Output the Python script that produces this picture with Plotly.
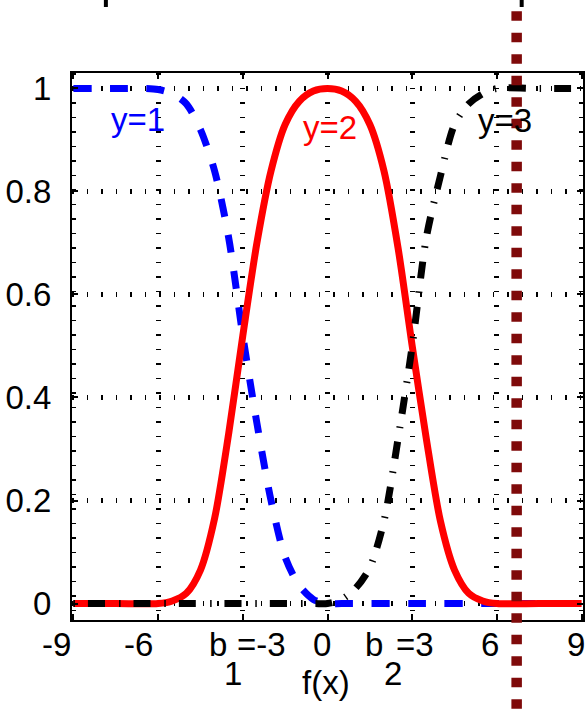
import plotly.graph_objects as go

# ---------------- data ----------------
x_blue = [-9, -7.5, -6.5, -6, -5.5, -5, -4.5, -4, -3.5, -3, -2.5, -2, -1.5, -1, -0.5, 0, 0.5, 3, 6, 9]
p_blue = [1, 1, 1, 0.998, 0.99, 0.97, 0.92, 0.84, 0.71, 0.52, 0.35, 0.2, 0.09, 0.035, 0.008, 0, 0, 0, 0, 0]

x_red = [-9, -7.5, -6, -5.5, -5, -4.5, -4, -3.5, -3, -2.5, -2, -1.5, -1, -0.5, 0,
         0.5, 1, 1.5, 2, 2.5, 3, 3.5, 4, 4.5, 5, 5.5, 6, 7.5, 9]
p_red = [0, 0, 0, 0.005, 0.02, 0.065, 0.165, 0.33, 0.52, 0.70, 0.84, 0.93, 0.975, 0.995, 1,
         0.995, 0.975, 0.93, 0.84, 0.69, 0.5, 0.32, 0.16, 0.065, 0.02, 0.005, 0, 0, 0]

x_black = [-9, -6, -3, -0.5, 0, 0.5, 1, 1.5, 2, 2.5, 3, 3.5, 4, 4.5, 5, 5.5, 6, 7.5, 9]
p_black = [0, 0, 0, 0, 0, 0.008, 0.03, 0.07, 0.16, 0.32, 0.5, 0.71, 0.83, 0.93, 0.97, 0.99, 1, 1, 1]

x_ticks = [-9, -6, -3, 0, 3, 6, 9]
y_ticks = [0, 0.2, 0.4, 0.6, 0.8, 1]
boundary_x = 6.7

class_labels = ["y=1", "y=2", "y=3"]
class_label_x = [-6.72, 0.09, 6.28]
class_label_y = [0.939, 0.924, 0.938]
class_colors = ["#0000ff", "#ff0000", "#000000"]

FONT = "Liberation Sans, Arial, Helvetica, sans-serif"
FS = 33

fig = go.Figure()
fig.add_trace(go.Scatter(x=x_blue, y=p_blue, mode="lines", hoverinfo="skip", showlegend=False,
                         line=dict(color="#0000ff", width=7, dash="18px,18.5px",
                                   shape="spline", smoothing=0.8)))
fig.add_trace(go.Scatter(x=x_red, y=p_red, mode="lines", hoverinfo="skip", showlegend=False,
                         line=dict(color="#ff0000", width=7, shape="spline", smoothing=0.8)))
fig.add_trace(go.Scatter(x=x_black, y=p_black, mode="lines", hoverinfo="skip", showlegend=False,
                         line=dict(color="#000000", width=7, dash="1.5px,13px,17px,14px",
                                   shape="spline", smoothing=0.8)))

# maroon dotted boundary line (extends beyond the axes)
fig.add_shape(type="line", xref="x", yref="paper", x0=boundary_x, x1=boundary_x,
              y0=1.1523, y1=-0.19, layer="above",
              line=dict(color="#7f0a0a", width=10.5, dash="9.5px,12px"))

# small cut-off marks at the very top
for xp in [0.0663, 0.880]:
    fig.add_shape(type="line", xref="paper", yref="paper", x0=xp, x1=xp,
                  y0=1.14, y1=1.1207, line=dict(color="black", width=4))

annotations = []
for t, xx, yy, c in zip(class_labels, class_label_x, class_label_y, class_colors):
    annotations.append(dict(text=t, x=xx, y=yy, xref="x", yref="y", showarrow=False,
                            xanchor="center", yanchor="middle",
                            font=dict(family=FONT, size=FS, color=c)))

# x tick labels
simple = {-9: ("-9", -17), -6: ("-6", -20), 0: ("0", -5.5), 6: ("6", -7), 9: ("9", -6)}
for v in x_ticks:
    if v in simple:
        txt, sh = simple[v]
        annotations.append(dict(text=txt, x=v, y=0, xref="x", yref="paper", showarrow=False,
                                xanchor="center", yanchor="top", xshift=sh, yshift=-4,
                                font=dict(family=FONT, size=FS, color="black")))
# b1=-3 and b2=3 with subscripts
parts = [(-3, "b", -36, -4), (-3, "1", -20.5, -33), (-3, "=-3", -8, -4),
         (3, "b", -49.5, -4), (3, "2", -30, -33), (3, "=3", -18.5, -4)]
for v, txt, xs, ys in parts:
    annotations.append(dict(text=txt, x=v, y=0, xref="x", yref="paper", showarrow=False,
                            xanchor="left", yanchor="top", xshift=xs, yshift=ys,
                            font=dict(family=FONT, size=FS, color="black")))
annotations.append(dict(text="f(x)", x=0.5, y=0, xref="paper", yref="paper", showarrow=False,
                        xanchor="center", yanchor="top", xshift=-1.5, yshift=-42,
                        font=dict(family=FONT, size=FS, color="black")))

fig.update_layout(width=588, height=709, margin=dict(l=72, r=3, t=73, b=89),
                  plot_bgcolor="white", paper_bgcolor="white",
                  font=dict(family=FONT, size=FS, color="black"),
                  annotations=annotations, showlegend=False)

fig.update_xaxes(range=[-9.05, 9.05], tickvals=x_ticks, showticklabels=False,
                 ticks="inside", ticklen=6, tickwidth=1.5, tickcolor="black",
                 showline=True, linecolor="black", linewidth=2, mirror="ticks",
                 showgrid=True, gridcolor="black", gridwidth=5, griddash="1.5px,13px",
                 zeroline=False)
fig.update_yaxes(range=[-0.032, 1.030], tickvals=y_ticks,
                 ticks="inside", ticklen=6, tickwidth=1.5, tickcolor="black",
                 showline=True, linecolor="black", linewidth=2, mirror="ticks",
                 showgrid=True, gridcolor="black", gridwidth=5, griddash="1.5px,13px",
                 zeroline=False, ticklabelstandoff=12,
                 tickfont=dict(family=FONT, size=FS, color="black"))

fig.write_html("out.html", config={"displayModeBar": False},
               post_script="document.body.style.margin='0px';document.body.style.overflow='hidden';")
